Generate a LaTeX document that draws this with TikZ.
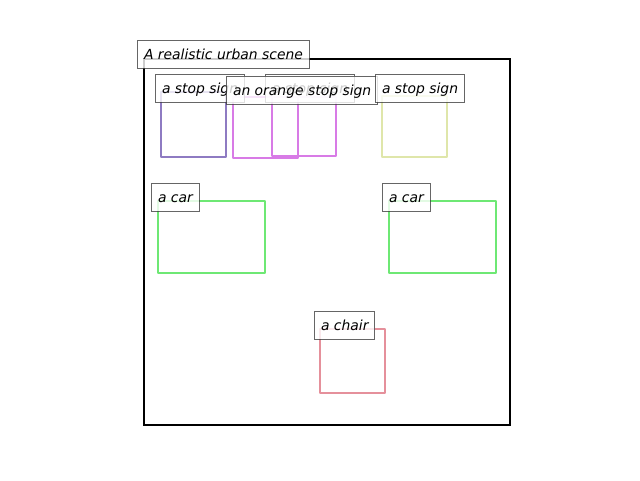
\documentclass[tikz,border=0pt]{standalone}
\usepackage{fontspec}
\setmainfont{DejaVu Sans}
\begin{document}
\begin{tikzpicture}[x=1pt,y=-1pt,
  lbl/.style={anchor=west, font=\fontsize{13.9}{16}\selectfont\itshape, fill=white, fill opacity=0.8, text opacity=1,
    draw=black!75, draw opacity=0.8, line width=1pt, inner xsep=6.5pt, inner ysep=7.5pt, text height=12pt, text depth=1pt},
  bbox/.style={line width=2.8pt, line join=round}]
\useasboundingbox (0,0) rectangle (640,480);
\definecolor{cpurple}{HTML}{8E7BC2}
\definecolor{cmag}{HTML}{D87BE6}
\definecolor{cyel}{HTML}{DFE6AA}
\definecolor{cgreen}{HTML}{6EE874}
\definecolor{cpink}{HTML}{E5909B}
\draw[line width=2.4pt] (144,59) rectangle (510,425);
\draw[bbox, cpurple] (161,92) rectangle (226,157);
\draw[bbox, cmag] (233,97) rectangle (298,158);
\draw[bbox, cmag] (272,97) rectangle (336,156);
\draw[bbox, cyel] (382,96) rectangle (447,157);
\draw[bbox, cgreen] (158,201) rectangle (265,273);
\draw[bbox, cgreen] (389,201) rectangle (496,273);
\draw[bbox, cpink] (320,329) rectangle (385,393);
\node[lbl] (title) at (137,54) {A realistic urban scene};
\node[lbl] (s1) at (155,88) {a stop sign};
\node[lbl] (s2) at (265,88) {a stop sign};
\node[lbl] (s3) at (226,90) {an orange stop sign};
\node[lbl] (s4) at (375,88) {a stop sign};
\node[lbl] (c1) at (151,197) {a car};
\node[lbl] (c2) at (382,197) {a car};
\node[lbl] (ch) at (314,325) {a chair};
\end{tikzpicture}
\end{document}
